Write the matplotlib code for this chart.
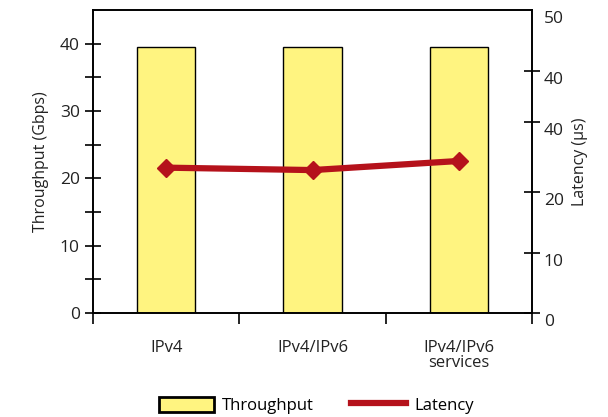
import matplotlib
matplotlib.use("Agg")
import matplotlib.pyplot as plt
import matplotlib.patches as mpatches
import matplotlib.lines as mlines
from matplotlib.transforms import ScaledTranslation
import numpy as np

plt.rcParams['font.family'] = ['Open Sans', 'DejaVu Sans']

categories = ['IPv4', 'IPv4/IPv6', 'IPv4/IPv6\nservices']
throughput = [39.5, 39.5, 39.5]
latency = [24.0, 23.6, 25.1]
# right axis as printed in the original (the "30" tick reads "40")
lat_ticks = [0, 10, 20, 31.5, 40, 50]
lat_ticklabels = ['0', '10', '20', '40', '40', '50']

fig = plt.figure(figsize=(6.08, 4.17), dpi=100)
ax = fig.add_axes([0.153, 0.249, 0.722, 0.727])
ax2 = ax.twinx()

x = np.arange(len(categories))
ax.bar(x, throughput, 0.4, color='#FFF480', edgecolor='black', linewidth=1.0, zorder=2)
ax2.plot(x, latency, color='#B5121B', linewidth=4.5, marker='D', markersize=9.5, zorder=3)

ax.set_xlim(-0.5, 2.5)
ax.set_ylim(0, 45)
ax2.set_ylim(0, 50)

# x ticks at category boundaries, labels at centres
ax.set_xticks([-0.5, 0.5, 1.5, 2.5])
ax.set_xticklabels([])
ax.set_xticks(x, minor=True)
ax.set_xticklabels(categories, minor=True, fontsize=12, color='#222222', linespacing=0.95)
ax.tick_params(axis='x', which='major', direction='out', length=8, width=1.2)
ax.tick_params(axis='x', which='minor', length=0, pad=19)

ax.set_yticks([0, 10, 20, 30, 40])
ax.set_yticks([5, 15, 25, 35], minor=True)
ax.tick_params(axis='y', which='both', direction='inout', length=11, width=1.2, labelsize=12.5, pad=4, colors='#222222')
ax.tick_params(axis='y', which='both', color='black')

ax2.set_yticks(lat_ticks)
ax2.set_yticklabels(lat_ticklabels)
ax2.tick_params(axis='y', direction='inout', length=11, width=1.2, labelsize=12.5, pad=3, labelcolor='#222222')
ax2.yaxis.get_major_ticks()[-1].tick2line.set_visible(False)
off = ScaledTranslation(0, -7 / 100, fig.dpi_scale_trans)
for lab in ax2.get_yticklabels():
    lab.set_transform(lab.get_transform() + off)

for a in (ax, ax2):
    for s in a.spines.values():
        s.set_linewidth(1.2)

ax.set_ylabel('Throughput (Gbps)', fontsize=11.5, color='#222222', labelpad=8)
ax2.set_ylabel('Latency (µs)', fontsize=11.5, color='#222222', labelpad=6)

h1 = mpatches.Patch(facecolor='#FFF480', edgecolor='black', linewidth=2, label='Throughput')
h2 = mlines.Line2D([], [], color='#B5121B', linewidth=4.5, label='Latency')
fig.legend(handles=[h1, h2], loc='center', bbox_to_anchor=(0.52, 0.028), ncol=2,
           frameon=False, fontsize=12, handlelength=3.3, handleheight=1.0,
           columnspacing=2.2, handletextpad=0.5)

fig.savefig('out.png', dpi=100)
